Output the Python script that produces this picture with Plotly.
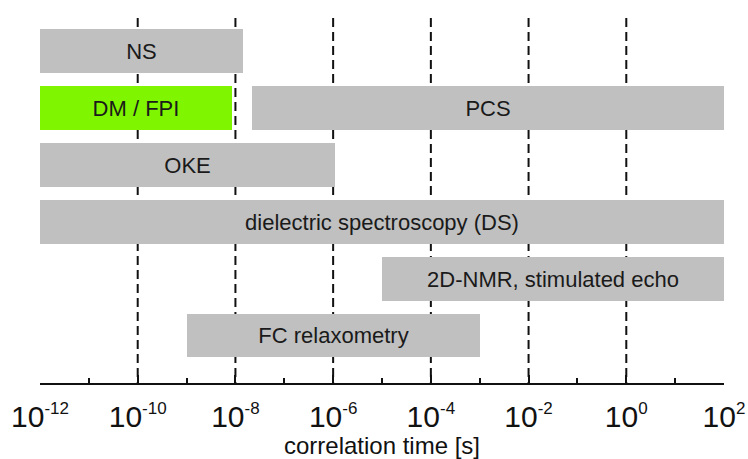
import plotly.graph_objects as go

# ---- data ----
methods = ["NS", "DM / FPI", "PCS", "OKE", "dielectric spectroscopy (DS)",
           "2D-NMR, stimulated echo", "FC relaxometry"]
rows = [5, 4, 4, 3, 2, 1, 0]
t_start = [1e-12, 1e-12, 2.2e-8, 1e-12, 1e-12, 1e-5, 1.03e-9]
t_end = [1.45e-8, 8.5e-9, 1e2, 1.1e-6, 1e2, 1e2, 1e-3]
colors = ["#c0c0c0", "#80f500", "#c0c0c0", "#c0c0c0", "#c0c0c0", "#c0c0c0", "#c0c0c0"]

major_ticks = [1e-12, 1e-10, 1e-8, 1e-6, 1e-4, 1e-2, 1e0, 1e2]
exponents = ["-12", "-10", "-8", "-6", "-4", "-2", "0", "2"]
minor_ticks = [1e-11, 1e-9, 1e-7, 1e-5, 1e-3, 1e-1, 1e1]
grid_decades = [1e-10, 1e-8, 1e-6, 1e-4, 1e-2, 1e0]

major_labels = ["10<sup><span style='font-size:17px'>%s</span></sup>" % e for e in exponents]

FONT = "Liberation Sans, Arial, sans-serif"

fig = go.Figure()
fig.add_trace(go.Bar(
    y=rows,
    x=[e - s for s, e in zip(t_start, t_end)],
    base=t_start,
    orientation="h",
    width=0.77,
    marker=dict(color=colors, line=dict(width=0)),
    text=methods,
    textposition="inside",
    insidetextanchor="middle",
    textangle=0,
    constraintext="none",
    textfont=dict(family=FONT, size=22, color="#1a1a1a"),
    hoverinfo="skip",
    showlegend=False,
))

for g in grid_decades:
    fig.add_shape(type="line", xref="x", yref="paper", x0=g, x1=g, y0=1, y1=0,
                  layer="below", line=dict(color="#111111", width=2, dash="9px,5px"))

fig.update_xaxes(
    type="log",
    range=[-12, 2],
    automargin=False,
    tickmode="array",
    tickvals=major_ticks,
    ticktext=major_labels,
    ticks="inside",
    ticklen=8,
    tickwidth=1.5,
    tickcolor="#111111",
    ticklabelstandoff=6,
    tickfont=dict(family=FONT, size=30, color="#111111"),
    showgrid=False,
    zeroline=False,
    showline=True,
    linecolor="#111111",
    linewidth=1.5,
    minor=dict(tickvals=minor_ticks, ticks="inside", ticklen=5, tickwidth=1.5,
               tickcolor="#111111", showgrid=False),
    title=dict(text="correlation time [s]", standoff=8,
               font=dict(family=FONT, size=24, color="#111111")),
)
fig.update_yaxes(range=[-0.835, 5.58], visible=False, showgrid=False, zeroline=False)

fig.update_layout(
    width=748, height=459,
    margin=dict(l=40, r=24, t=18, b=76),
    paper_bgcolor="white",
    plot_bgcolor="white",
    bargap=0,
)

fig.write_html("out.html")
